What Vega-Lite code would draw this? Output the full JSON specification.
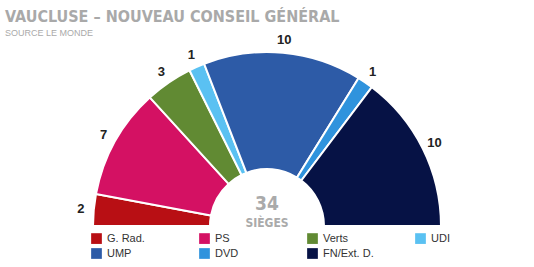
{
  "$schema": "https://vega.github.io/schema/vega-lite/v6.json",
  "width": 524,
  "height": 180,
  "padding": {"left": 5, "right": 5, "top": 8, "bottom": 0},
  "autosize": {"type": "pad"},
  "background": "white",
  "config": {"view": {"stroke": null}},
  "title": {
    "text": "VAUCLUSE – NOUVEAU CONSEIL GÉNÉRAL",
    "subtitle": "SOURCE LE MONDE",
    "anchor": "start",
    "frame": "group",
    "font": "DejaVu Sans Condensed, sans-serif",
    "fontSize": 16,
    "fontWeight": "bold",
    "color": "#a9a9a9",
    "subtitleFont": "Liberation Sans",
    "subtitleFontSize": 9,
    "subtitleColor": "#aaaaaa",
    "subtitlePadding": 4,
    "offset": -4
  },
  "layer": [
    {
      "data": {"values": [
        {"party": "G. Rad.", "seats": 2, "order": 1},
        {"party": "PS", "seats": 7, "order": 2},
        {"party": "Verts", "seats": 3, "order": 3},
        {"party": "UDI", "seats": 1, "order": 4},
        {"party": "UMP", "seats": 10, "order": 5},
        {"party": "DVD", "seats": 1, "order": 6},
        {"party": "FN/Ext. D.", "seats": 10, "order": 7}
      ]},
      "encoding": {
        "theta": {"field": "seats", "type": "quantitative", "stack": true, "scale": {"range": [-1.5708, 1.5708]}},
        "order": {"field": "order", "type": "quantitative"}
      },
      "layer": [
        {
          "mark": {"type": "arc", "innerRadius": 57, "outerRadius": 174, "stroke": "white", "strokeWidth": 2, "x": {"expr": "width/2"}, "y": {"expr": "height"}},
          "encoding": {
            "color": {
              "field": "party", "type": "nominal",
              "scale": {
                "domain": ["G. Rad.", "PS", "Verts", "UDI", "UMP", "DVD", "FN/Ext. D."],
                "range": ["#b80f14", "#d41163", "#618a33", "#5ac1f2", "#2d5ba7", "#2f93dd", "#061245"]
              },
              "legend": {
                "title": null,
                "orient": "none",
                "legendX": 86,
                "legendY": 187,
                "direction": "horizontal",
                "columns": 4,
                "gridAlign": "all",
                "columnPadding": 41,
                "rowPadding": 3,
                "symbolType": "square",
                "symbolSize": 115,
                "symbolStrokeWidth": 0,
                "symbolOpacity": 1,
                "labelFont": "Liberation Sans",
                "labelFontSize": 11,
                "labelColor": "#333333",
                "labelOffset": 5
              }
            }
          }
        },
        {
          "mark": {"type": "text", "radius": 187, "x": {"expr": "width/2"}, "y": {"expr": "height"}, "font": "Liberation Sans", "fontWeight": "bold", "fontSize": 13, "color": "#222222"},
          "encoding": {"text": {"field": "seats", "type": "quantitative"}}
        }
      ]
    },
    {
      "data": {"values": [{"label": "34"}]},
      "mark": {"type": "text", "x": {"expr": "width/2"}, "y": {"expr": "height"}, "dy": -16, "baseline": "alphabetic", "font": "DejaVu Sans Condensed, sans-serif", "fontWeight": "bold", "fontSize": 19, "color": "#aaaaaa"},
      "encoding": {"text": {"field": "label", "type": "nominal"}}
    },
    {
      "data": {"values": [{"label": "SIÈGES"}]},
      "mark": {"type": "text", "x": {"expr": "width/2"}, "y": {"expr": "height"}, "dy": 1, "baseline": "alphabetic", "font": "DejaVu Sans Condensed, sans-serif", "fontWeight": "bold", "fontSize": 12, "color": "#aaaaaa"},
      "encoding": {"text": {"field": "label", "type": "nominal"}}
    }
  ]
}
